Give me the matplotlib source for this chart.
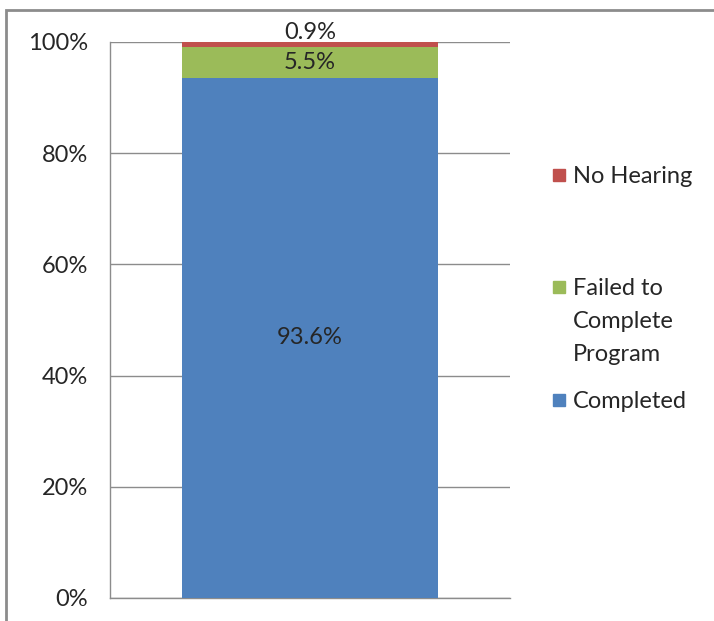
import matplotlib.pyplot as plt
from matplotlib.patches import Rectangle

# ============================================================
#  Data (percent of cases)
# ============================================================

categories = ["Completed", "Failed to\nComplete\nProgram", "No Hearing"]
values     = [93.6, 5.5, 0.9]
colors     = ["#4F81BD", "#9BBB59", "#C0504D"]
yticks     = [0, 20, 40, 60, 80, 100]

FONT = "Lato"
FS = 17
W, H = 714, 621

fig = plt.figure(figsize=(W / 100, H / 100), dpi=100)
ax = fig.add_axes([110 / W, 23 / H, 400 / W, 556 / H])

# ---- stacked bar ----
bottom = 0.0
for val, col in zip(values, colors):
    ax.bar(0, val, width=0.64, bottom=bottom, color=col, zorder=3)
    mid = bottom + val / 2
    off = 9 if val < 2 else 0     # small slice: label sits above the bar
    ax.annotate(f"{val:.1f}%", xy=(0, mid), xytext=(0, off),
                textcoords="offset points", ha="center", va="center",
                fontsize=FS, family=FONT, color="#262626", zorder=4)
    bottom += val

ax.set_xlim(-0.5, 0.5)
ax.set_ylim(0, 100)
ax.set_xticks([])
ax.set_yticks(yticks)
ax.set_yticklabels([f"{t}%" for t in yticks], fontsize=FS, family=FONT,
                   color="#262626")
ax.tick_params(axis="y", length=0, pad=16)
ax.yaxis.grid(True, color="#8C8C8C", linewidth=1.0, zorder=0)
for s in ["top", "right"]:
    ax.spines[s].set_visible(False)
for s in ["left", "bottom"]:
    ax.spines[s].set_color("#8C8C8C")
    ax.spines[s].set_linewidth(1.0)

# ---- legend (Excel style: marker aligned with first text line) ----
leg_y = [400, 287, 175]   # pixel rows from top for each entry's first line
for lab, col, yy in zip(categories, colors, leg_y):
    yf = 1 - yy / H
    fig.patches.append(Rectangle((553 / W, yf - 6 / H), 12 / W, 12 / H,
                                 transform=fig.transFigure, color=col))
    fig.text(573 / W, yf + 9 / H, lab, ha="left", va="top", fontsize=FS,
             family=FONT, color="#262626", linespacing=1.72)

# ---- outer chart frame (cropped on right/bottom) ----
top = 1 - 10 / H
fig.patches.append(Rectangle((6 / W, -0.2), 1.2, top + 0.2,
                             transform=fig.transFigure, fill=False,
                             edgecolor="#8C8C8C", linewidth=2.0))

fig.savefig("out.png", dpi=100)
